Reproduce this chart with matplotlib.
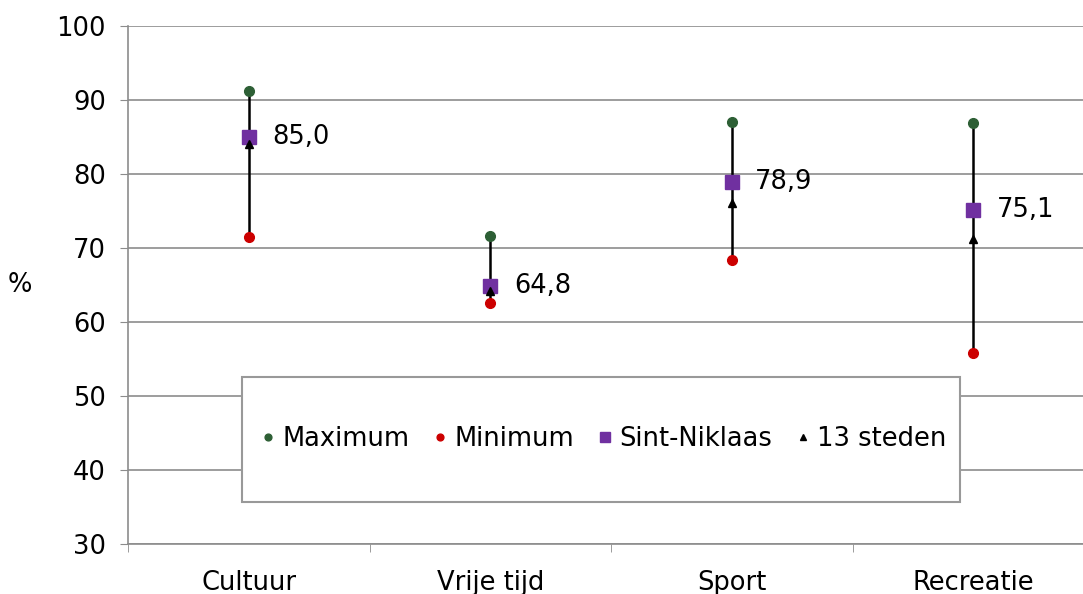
import numpy as np
import matplotlib.pyplot as plt
from matplotlib.patches import Rectangle

categories = ['Cultuur', 'Vrije tijd', 'Sport', 'Recreatie']
maximum = [91.2, 71.6, 87.0, 86.9]
minimum = [71.5, 62.6, 68.4, 55.8]
sint_niklaas = [85.0, 64.8, 78.9, 75.1]
steden13 = [84.0, 64.2, 76.1, 71.2]

green = '#2d5f35'
red = '#cc0000'
purple = '#7030a0'
gridc = '#8c8c8c'
fs = 18.5

fig = plt.figure(figsize=(10.83, 5.94), dpi=100)
ax = fig.add_axes([128/1083, 50/594, 966/1083, 518/594])
x = np.arange(len(categories))

ax.vlines(x, minimum, maximum, color='black', lw=1.8, zorder=2)
ax.plot(x, maximum, 'o', color=green, ms=7, zorder=3, label='Maximum')
ax.plot(x, minimum, 'o', color=red, ms=7, zorder=3, label='Minimum')
ax.plot(x, sint_niklaas, 's', color=purple, ms=10, zorder=4, label='Sint-Niklaas')
ax.plot(x, steden13, '^', color='black', ms=6, zorder=5, label='13 steden')

for xi, v in zip(x, sint_niklaas):
    ax.annotate(f'{v:.1f}'.replace('.', ','), (xi, v), xytext=(17, 0),
                textcoords='offset points', va='center', ha='left', fontsize=fs)

ax.set_xlim(-0.5, 3.5)
ax.set_ylim(30, 100)
ax.set_yticks(np.arange(30, 101, 10))
ax.set_xticks(x)
ax.set_xticklabels(categories)
ax.set_xticks(np.arange(-0.5, 4, 1), minor=True)
ax.tick_params(axis='x', which='major', length=0, pad=19, labelsize=fs)
ax.tick_params(axis='x', which='minor', length=6, color=gridc, direction='out')
ax.tick_params(axis='y', length=6, color=gridc, pad=10, labelsize=fs)
ax.yaxis.grid(True, color=gridc, lw=1.2)
ax.set_axisbelow(True)
for s in ['top', 'right']:
    ax.spines[s].set_visible(False)
for s in ['left', 'bottom']:
    ax.spines[s].set_color(gridc)
    ax.spines[s].set_linewidth(1.2)

fig.text(20/1083, 1 - 285/594, '%', fontsize=fs, ha='center', va='center')

# legend box
box = Rectangle((242/1083, 1 - 502/594), 718/1083, 125/594, transform=fig.transFigure,
                facecolor='white', edgecolor='#999999', lw=1.5, zorder=10)
fig.patches.append(box)
leg = fig.legend(loc='center', bbox_to_anchor=(604/1083, 1 - 439/594), ncol=4,
                 frameon=False, fontsize=fs, markerscale=0.7, handlelength=0.5,
                 handletextpad=0.3, columnspacing=0.95)
leg.set_zorder(11)

fig.savefig('out.png', dpi=100)
